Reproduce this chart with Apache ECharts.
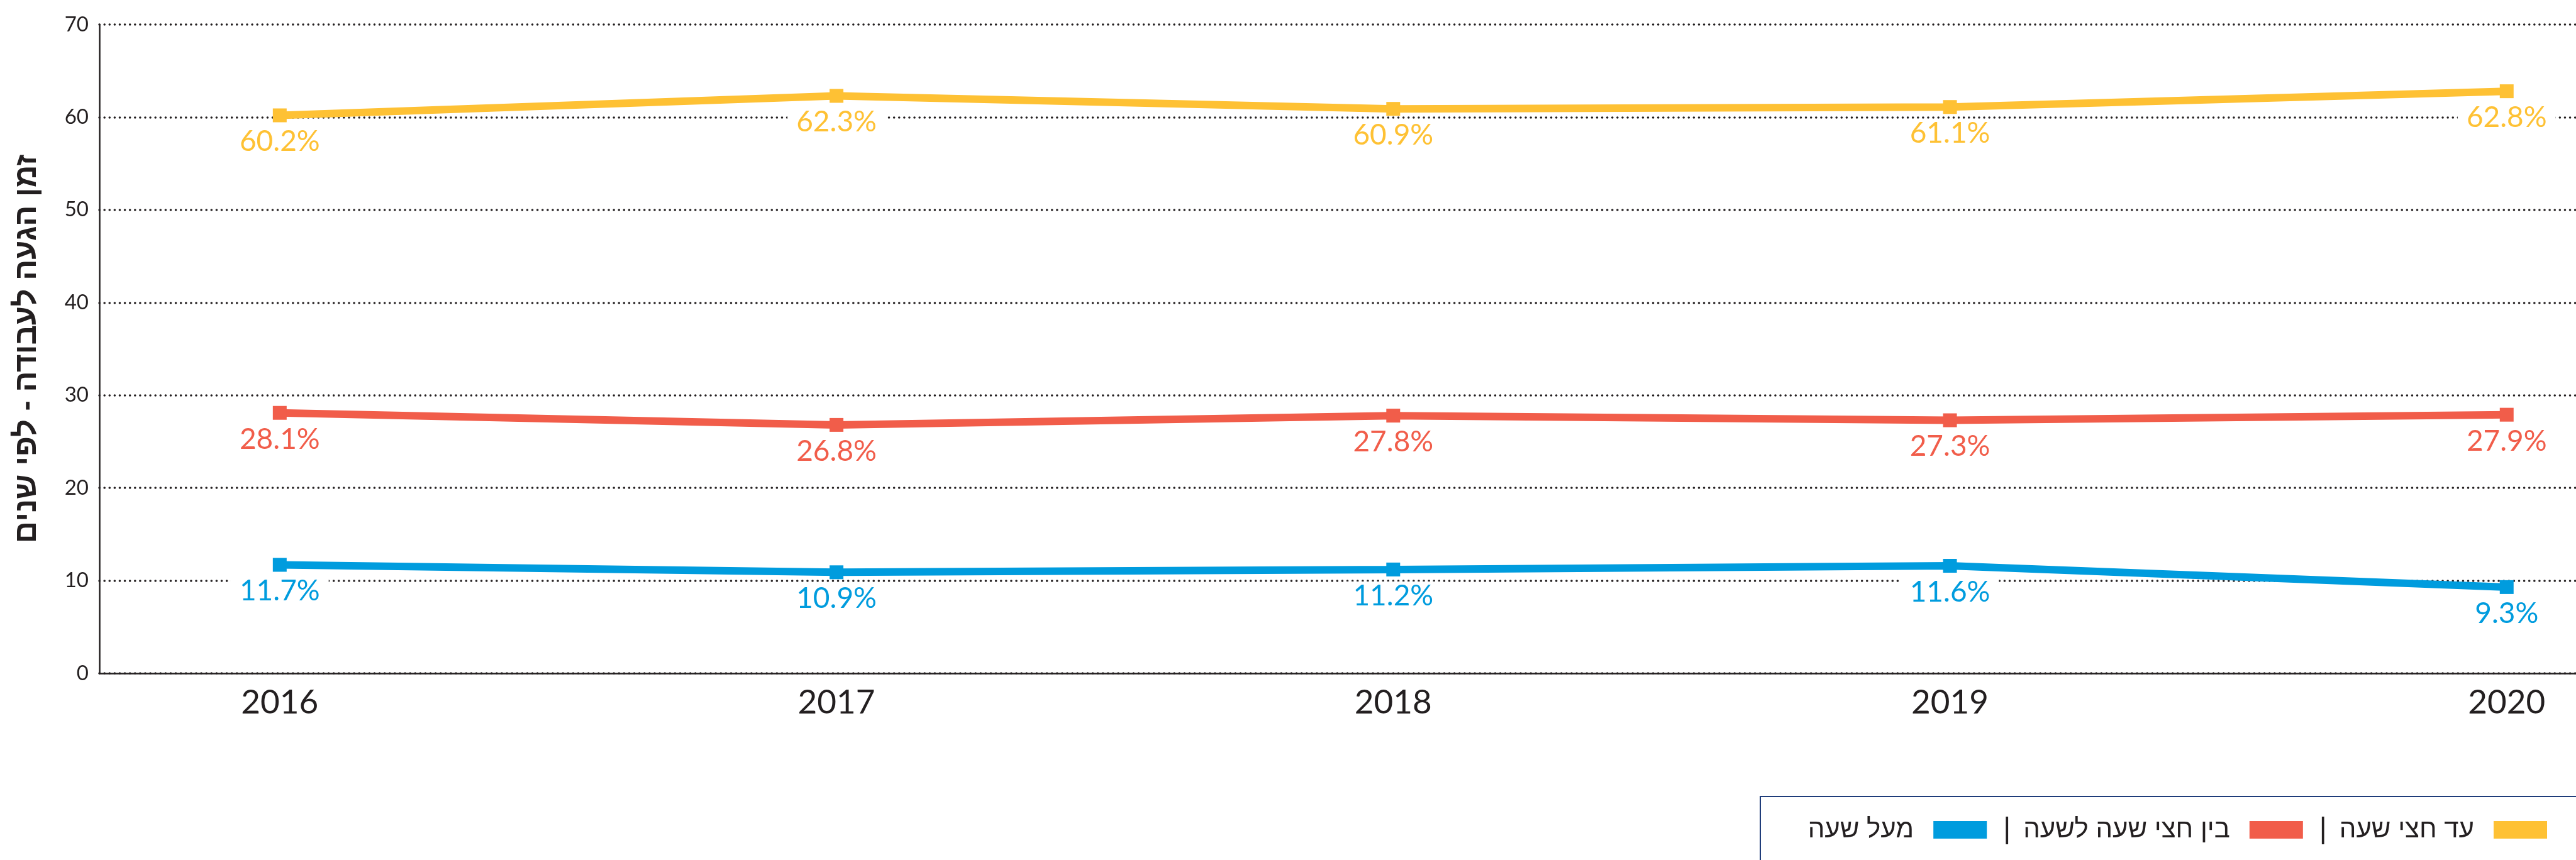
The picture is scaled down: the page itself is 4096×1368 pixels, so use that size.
<!DOCTYPE html>
<html>
<head>
<meta charset="utf-8">
<script src="https://cdn.jsdelivr.net/npm/echarts@6/dist/echarts.min.js"></script>
<style>
	body{margin:0;background:#fff;}
	#main{width:4096px;height:1368px;}
</style>
</head>
<body>
<div id="main"></div>
<script>
	// שנים
	var years = [2016, 2017, 2018, 2019, 2020]
	// עד חצי שעה
	var upToHalf = [60.2, 62.3, 60.9, 61.1, 62.8]
	// בין חצי שעה לשעה
	var halfToHour = [28.1, 26.8, 27.8, 27.3, 27.9]
	// מעל שעה
	var overHour = [11.7, 10.9, 11.2, 11.6, 9.3]
	var yTicks = [0, 10, 20, 30, 40, 50, 60, 70]

	var names = ['עד חצי שעה', 'בין חצי שעה לשעה', 'מעל שעה']
	var colors = ['#FEC134', '#F15D4A', '#009CDE']
	var ink = '#231f20'

	function pairs(vals){
		var out = []
		for(let i=0;i<years.length;i++){
			out.push([years[i], vals[i]])
		}
		return out
	}

	function makeSeries(name, vals, color){
		return {
			name: name,
			type: 'line',
			data: pairs(vals),
			symbol: 'rect',
			symbolSize: 22,
			lineStyle: {color: color, width: 12},
			itemStyle: {color: color},
			label: {
				show: true,
				position: 'bottom',
				distance: 8,
				color: color,
				fontSize: 46,
				fontFamily: 'Lato',
				backgroundColor: '#fff',
				padding: [0, 14],
				formatter: function(p){ return p.value[1].toFixed(1) + '%' }
			},
			emphasis: {disabled: true},
			animation: false
		}
	}

	var mychart = echarts.init(document.getElementById('main'))

	var option = {
		grid: {left: 158, right: 0, top: 39, bottom: 297},
		xAxis: {
			type: 'value',
			min: 2015.676,
			max: 2020.1245,
			axisLine: {show: true, onZero: false, lineStyle: {color: ink, width: 2.5}},
			axisTick: {show: false},
			splitLine: {show: false},
			axisLabel: {
				customValues: years,
				color: ink,
				fontSize: 53,
				fontFamily: 'Lato',
				margin: 20,
				formatter: function(v){ return String(v) }
			}
		},
		yAxis: {
			type: 'value',
			min: yTicks[0],
			max: yTicks[yTicks.length-1],
			interval: 10,
			name: 'זמן הגעה לעבודה - לפי שנים',
			nameLocation: 'middle',
			nameRotate: 90,
			nameGap: 90,
			nameTextStyle: {color: ink, fontSize: 49, fontWeight: 'bold', fontFamily: 'Liberation Sans'},
			axisLine: {show: true, lineStyle: {color: ink, width: 2.5}},
			axisTick: {show: false},
			axisLabel: {color: ink, fontSize: 33, fontFamily: 'Lato', margin: 17},
			splitLine: {show: true, lineStyle: {color: ink, width: 3.5, type: [0.1, 8], cap: 'round'}}
		},
		legend: {
			right: 41,
			top: 1292,
			align: 'right',
			icon: 'rect',
			itemWidth: 85,
			itemHeight: 28,
			itemGap: 26,
			data: [names[2], names[1], names[0]],
			formatter: function(name){
				if(name === names[2]) return '{t|' + name + '}'
				return '{s||}{t|' + name + '}'
			},
			textStyle: {
				color: ink,
				rich: {
					s: {fontSize: 46, fontFamily: 'Liberation Sans', color: ink, padding: [0, 20, 0, 0]},
					t: {fontSize: 42, fontFamily: 'Liberation Sans', color: ink, padding: [0, 26, 0, 0]}
				}
			}
		},
		graphic: [{
			type: 'polyline',
			shape: {points: [[2799, 1368], [2799, 1267], [4096, 1267]]},
			style: {stroke: '#1f3d7a', lineWidth: 2, fill: null}
		}],
		series: [
			makeSeries(names[0], upToHalf, colors[0]),
			makeSeries(names[1], halfToHour, colors[1]),
			makeSeries(names[2], overHour, colors[2])
		]
	}

	mychart.setOption(option)
</script>
</body>
</html>
